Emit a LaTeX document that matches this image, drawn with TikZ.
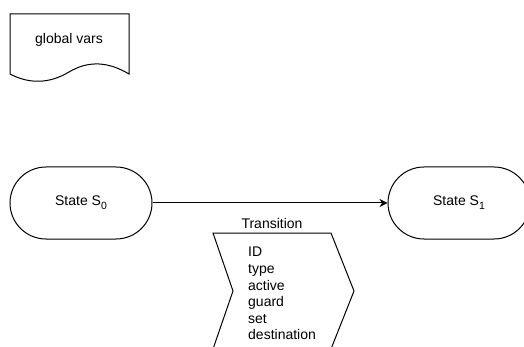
\documentclass[tikz,border=0pt]{standalone}
\usepackage{fontspec}
\setmainfont{Liberation Sans}
\usetikzlibrary{arrows.meta}
\newcommand{\lowidx}[1]{\raisebox{-0.3em}{\fontsize{10.5}{12}\selectfont #1}}
\begin{document}
\begin{tikzpicture}[x=1pt,y=-1pt,
  outline/.style={draw=black,line width=1pt,fill=white},
  statebox/.style={outline,rectangle,rounded corners=36pt,minimum width=142pt,minimum height=72pt,inner sep=0pt,font=\fontsize{14}{16.8}\selectfont},
  txt/.style={inner sep=0pt,font=\fontsize{14}{16.6}\selectfont},
  link/.style={draw=black,line width=1pt,-{Stealth[length=8pt,width=8pt,inset=2.5pt]}}]
\useasboundingbox (0,0) rectangle (524,347);
\clip (0,0) rectangle (524,347);

% document shape holding the global variables
\draw[outline] (10,14) -- (129,14) -- (129,74)
  .. controls (109,62) and (89,60) .. (69,72)
  .. controls (49,84) and (29,84) .. (10,74) -- cycle;
\node[txt] (vars) at (69,40) {global vars};

% the two states
\node[statebox] (s0) at (81,203) {State S\lowidx{0}};
\node[statebox] (s1) at (459,203) {State S\lowidx{1}};

\draw[link] (s0.east) -- (s1.west);

% transition record
\draw[outline] (213,233) -- (331,233) -- (354,291) -- (331,349)
  -- (213,349) -- (233,291) -- cycle;
\node[txt] (trlabel) at (272,223) {Transition};
\node[txt,anchor=north west,align=left] (fields) at (248,247)
  {ID\\type\\active\\guard\\set\\destination};
\end{tikzpicture}
\end{document}
